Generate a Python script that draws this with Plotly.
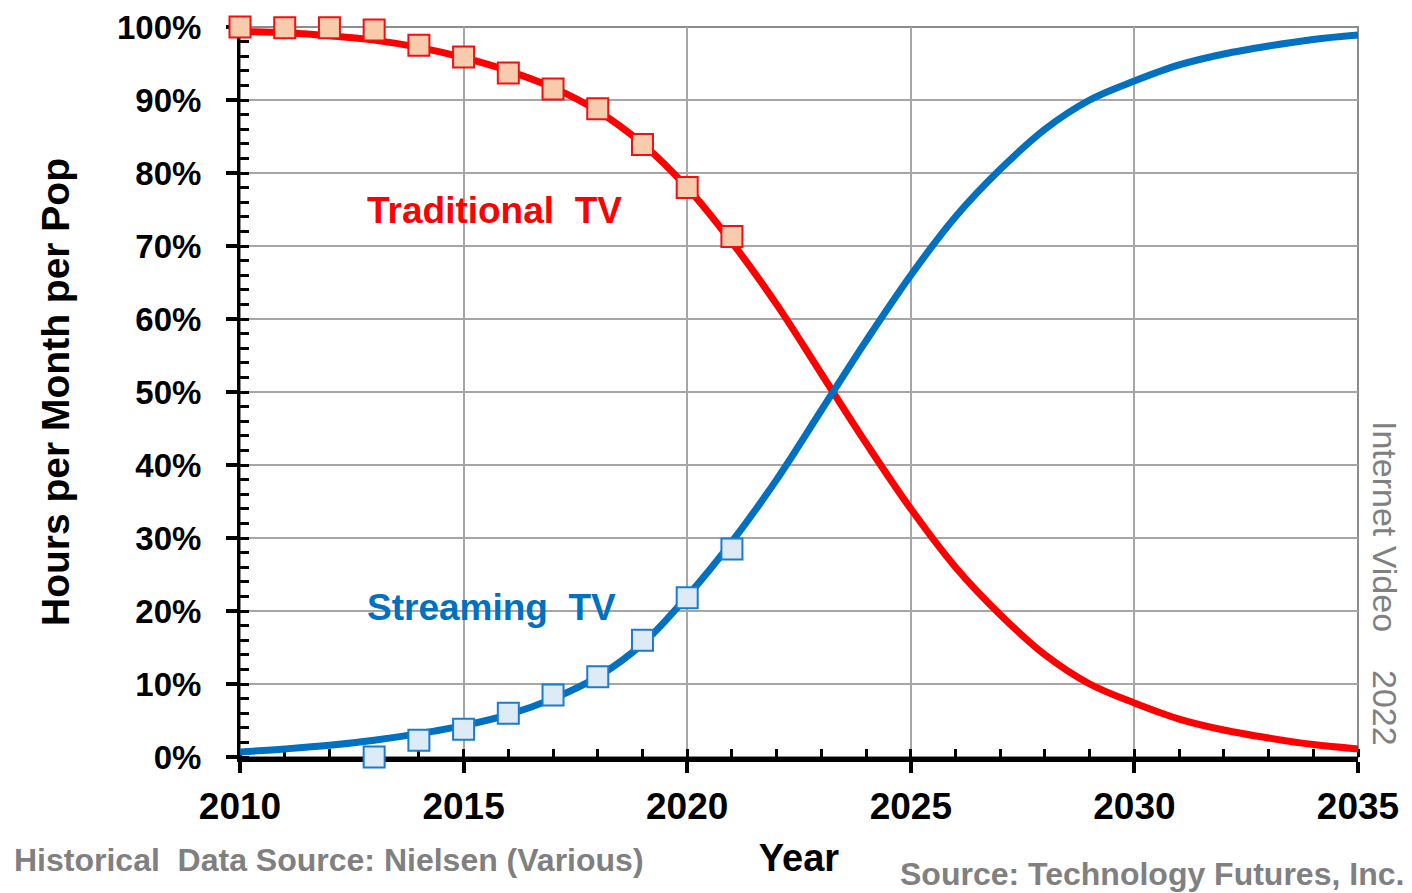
import plotly.graph_objects as go

# curve (model) values, one per year
years = list(range(2010, 2036))
traditional_model = [99.4, 99.2, 98.8, 98.2, 97.2, 95.8, 94.0, 91.7, 88.5, 84.0,
                     78.0, 70.5, 62.0, 52.5, 43.0, 34.0, 26.0, 19.5, 14.0, 10.0,
                     7.4, 5.2, 3.7, 2.6, 1.7, 1.1]
streaming_model = [0.7, 1.1, 1.6, 2.3, 3.2, 4.3, 5.8, 8.0, 11.0, 15.5,
                   22.0, 29.5, 38.0, 47.5, 57.0, 66.0, 74.0, 80.5, 86.0, 90.0,
                   92.6, 94.8, 96.3, 97.4, 98.3, 98.9]

# historical points (Nielsen)
trad_years = list(range(2010, 2022))
trad_hist = [100.0, 99.9, 99.9, 99.6, 97.5, 95.9, 93.7, 91.5, 88.8, 83.9, 78.0, 71.3]
stream_years = list(range(2013, 2022))
stream_hist = [0.0, 2.3, 3.8, 6.0, 8.5, 11.0, 16.0, 21.8, 28.5]

RED = '#ff0000'
BLUE = '#0070c0'
GREY_TXT = '#808080'
FONT = 'Liberation Sans, Arial, sans-serif'

fig = go.Figure()

# Curvas
fig.add_trace(go.Scatter(
    x=years, y=traditional_model, mode='lines',
    line=dict(color=RED, width=7, shape='spline'),
    showlegend=False, hoverinfo='skip', cliponaxis=False
))
fig.add_trace(go.Scatter(
    x=years, y=streaming_model, mode='lines',
    line=dict(color=BLUE, width=7, shape='spline'),
    showlegend=False, hoverinfo='skip', cliponaxis=False
))

# Puntos históricos
fig.add_trace(go.Scatter(
    x=trad_years, y=trad_hist, mode='markers',
    marker=dict(symbol='square', size=21, color='#f8cbad',
                line=dict(color='#f01010', width=2)),
    showlegend=False, cliponaxis=False,
    hovertemplate='%{x}: %{y:.1f}%<extra></extra>'
))
fig.add_trace(go.Scatter(
    x=stream_years, y=stream_hist, mode='markers',
    marker=dict(symbol='square', size=21, color='#ddebf7',
                line=dict(color='#1a7bd0', width=2)),
    showlegend=False, cliponaxis=False,
    hovertemplate='%{x}: %{y:.1f}%<extra></extra>'
))

# Etiquetas de series
fig.add_annotation(x=2012.8, y=74.9, text='<b>Traditional&nbsp; TV</b>',
                   xanchor='left', yanchor='middle', showarrow=False,
                   font=dict(size=37, color=RED, family=FONT))
fig.add_annotation(x=2012.8, y=20.5, text='<b>Streaming&nbsp; TV</b>',
                   xanchor='left', yanchor='middle', showarrow=False,
                   font=dict(size=37, color=BLUE, family=FONT))

# Textos laterales y fuentes
fig.add_annotation(xref='paper', yref='paper', x=1.0, y=0.0, xshift=27, yshift=231,
                   text='Internet Video', textangle=90, showarrow=False,
                   xanchor='center', yanchor='middle',
                   font=dict(size=34, color=GREY_TXT, family=FONT))
fig.add_annotation(xref='paper', yref='paper', x=1.0, y=0.0, xshift=27, yshift=49,
                   text='2022', textangle=90, showarrow=False,
                   xanchor='center', yanchor='middle',
                   font=dict(size=34, color=GREY_TXT, family=FONT))
fig.add_annotation(xref='paper', yref='paper', x=0.0, y=0.0, xshift=-228, yshift=-103,
                   text='<b>Historical&nbsp; Data Source: Nielsen (Various)</b>',
                   showarrow=False, xanchor='left', yanchor='middle',
                   font=dict(size=32, color=GREY_TXT, family=FONT))
fig.add_annotation(xref='paper', yref='paper', x=1.0, y=0.0, xshift=48, yshift=-117,
                   text='<b>Source: Technology Futures, Inc.</b>',
                   showarrow=False, xanchor='right', yanchor='middle',
                   font=dict(size=32, color=GREY_TXT, family=FONT))

# Marco gris (arriba / derecha)
fig.add_shape(type='rect', xref='x domain', yref='y domain', x0=0, x1=1, y0=0, y1=1,
              line=dict(color='#8c8c8c', width=2), layer='below')

# la página añade 8px de margen: se compensa en el tamaño y márgenes
fig.update_layout(
    width=1404, height=885,
    margin=dict(l=232, r=54, t=19, b=136, autoexpand=False),
    paper_bgcolor='white', plot_bgcolor='white',
    font=dict(family=FONT, color='black'),
    showlegend=False,
    xaxis=dict(
        range=[2010, 2035], tick0=2010, dtick=5,
        ticks='outside', ticklen=11, tickwidth=4, tickcolor='black',
        showline=True, linewidth=5, linecolor='black',
        showgrid=True, gridcolor='#a6a6a6', gridwidth=1.5,
        zeroline=False, automargin=False, layer='below traces',
        tickfont=dict(size=37, color='black', family=FONT, weight='bold'),
        ticklabelstandoff=2, ticklabeloverflow='allow',
        minor=dict(dtick=1, ticks='inside', ticklen=8, tickwidth=3,
                   tickcolor='black', showgrid=False),
        title=dict(text='<b>Year</b>', standoff=19,
                   font=dict(size=38, color='black', family=FONT)),
    ),
    yaxis=dict(
        range=[0, 100], tick0=0, dtick=10, ticksuffix='%',
        ticks='outside', ticklen=11, tickwidth=4, tickcolor='black',
        showline=True, linewidth=3, linecolor='black',
        showgrid=True, gridcolor='#a6a6a6', gridwidth=1.5,
        zeroline=False, automargin=False, layer='below traces',
        tickfont=dict(size=33, color='black', family=FONT, weight='bold'),
        ticklabelstandoff=18, ticklabeloverflow='allow',
        minor=dict(dtick=2, ticks='inside', ticklen=9, tickwidth=3,
                   tickcolor='black', showgrid=False),
        title=dict(text='<b>Hours per Month per Pop</b>', standoff=36,
                   font=dict(size=39, color='black', family=FONT)),
    ),
    # ejes superpuestos: parte interior de las marcas principales
    xaxis2=dict(overlaying='x', anchor='y', side='bottom',
                range=[2010, 2035], tick0=2010, dtick=5,
                ticks='inside', ticklen=11, tickwidth=4, tickcolor='black',
                showticklabels=False, showgrid=False, zeroline=False,
                showline=False, automargin=False, layer='below traces'),
    yaxis2=dict(overlaying='y', anchor='x', side='left',
                range=[0, 100], tick0=0, dtick=10,
                ticks='inside', ticklen=11, tickwidth=4, tickcolor='black',
                showticklabels=False, showgrid=False, zeroline=False,
                showline=False, automargin=False, layer='below traces'),
)

fig.write_html("out.html")
